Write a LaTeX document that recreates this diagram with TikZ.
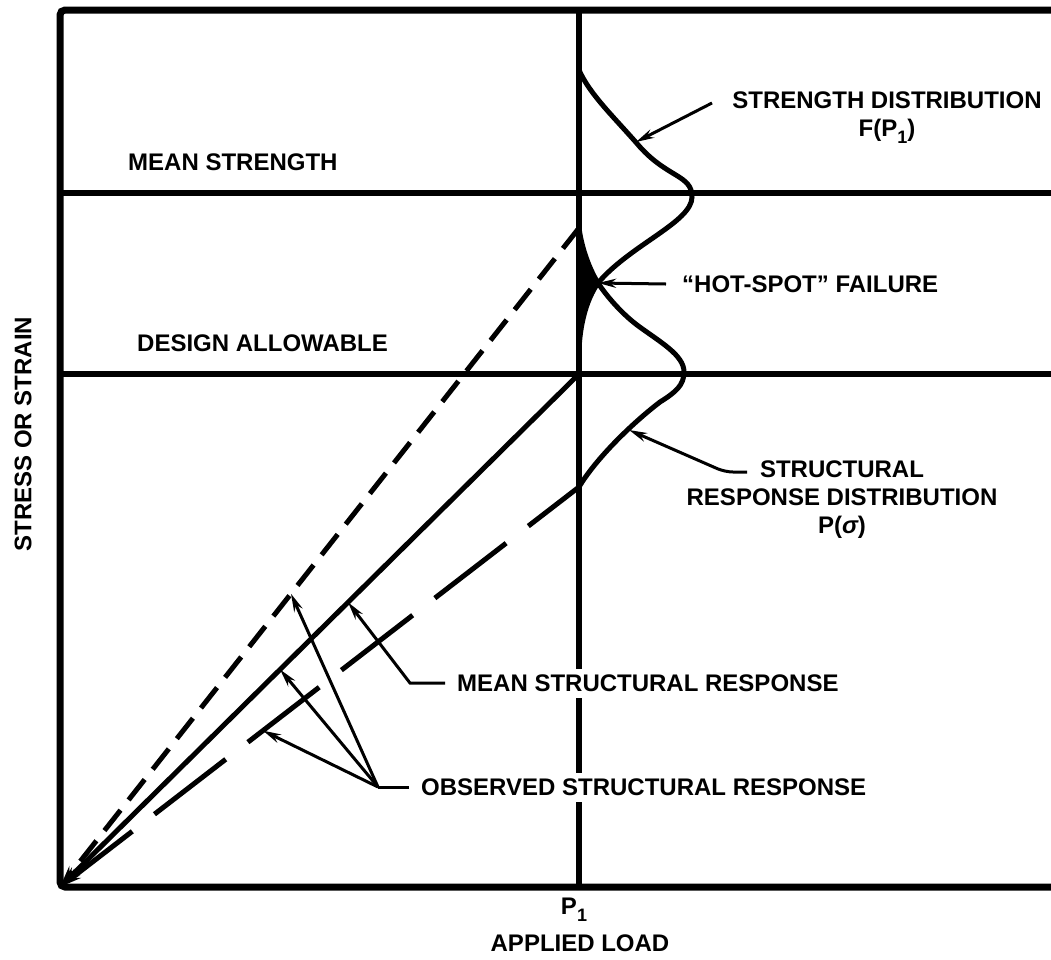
\documentclass[tikz,border=0pt]{standalone}
\usepackage{fontspec}
\setmainfont{Liberation Sans}
\usetikzlibrary{arrows.meta,calc}
\newcommand{\subone}[1]{\raisebox{-7pt}{\fontsize{18}{18}\selectfont #1}}

\begin{document}
\begin{tikzpicture}[x=1pt,y=-1pt,
  lbl/.style={font=\fontsize{24}{28}\selectfont\bfseries, inner sep=0pt, align=center},
  cutlbl/.style={lbl, fill=white, inner xsep=12pt, inner ysep=6pt},
  axisline/.style={line width=5.5pt},
  resp/.style={line width=5pt},
  lead/.style={line width=3pt},
  tip/.style={-{Stealth[length=18pt,width=9pt]}}
]
  \useasboundingbox[fill=white] (0,0) rectangle (1051,959);

  % frame, levels and P1
  \coordinate (O) at (60,887);
  \draw[line width=7pt, rounded corners=5pt] (1051,10) -- (60,10) -- (O) -- (1051,887);
  \draw[axisline] (60,193) -- (1051,193);
  \draw[axisline] (60,374) -- (1051,374);
  \draw[axisline] (579,10) -- (579,887);

  % response lines
  \coordinate (hiend) at (579,228);
  \coordinate (meanend) at (579,374);
  \coordinate (loend) at (579,487);
  \draw[resp, dash pattern=on 26pt off 13pt, -{Stealth[length=22pt,width=11pt]}] (hiend) -- (O);
  \draw[resp, -{Stealth[length=22pt,width=11pt]}] (meanend) -- (O);
  \draw[resp, dash pattern=on 90pt off 28pt, dash phase=26pt, -{Stealth[length=22pt,width=11pt]}] (loend) -- (O);

  % distributions
  \coordinate (X) at (598,283);
  \fill (579,228) .. controls (582,250) and (590,270) .. (X) .. controls (586,300) and (580,325) .. (579,350) -- cycle;
  \draw[resp] (579,70) .. controls (590,95) and (615,118) .. (640,147) .. controls (668,178) and (692,175) .. (692,197)
    .. controls (692,222) and (630,245) .. (X) .. controls (586,300) and (580,325) .. (579,350);
  \draw[resp] (loend) .. controls (595,460) and (630,425) .. (660,402) .. controls (676,392) and (684,385) .. (684,372)
    .. controls (684,355) and (660,342) .. (637,325) .. controls (620,312) and (606,295) .. (X)
    .. controls (590,270) and (582,250) .. (hiend);
  \coordinate (Fpt) at (636,142);
  \coordinate (Ppt) at (629,430);

  % labels
  \node[lbl, anchor=west] (meanstr) at (128,162) {MEAN STRENGTH};
  \node[lbl, anchor=west] (designall) at (137,343) {DESIGN ALLOWABLE};
  \node[lbl, rotate=90] (yaxis) at (23,434) {STRESS OR STRAIN};
  \node[lbl] (fdist) at (887,118) {STRENGTH DISTRIBUTION\\F(P\subone{1})};
  \node[lbl, anchor=west] (hotspot) at (682,284) {``HOT-SPOT'' FAILURE};
  \node[lbl] (pdist) at (842,500) {STRUCTURAL\\RESPONSE DISTRIBUTION\\P({\itshape σ})};
  \node[cutlbl, anchor=west] (meanl) at (445,683) {MEAN STRUCTURAL RESPONSE};
  \node[cutlbl, anchor=west] (obsl) at (409,787) {OBSERVED STRUCTURAL RESPONSE};
  \node[lbl] (p1) at (574,910) {P\subone{1}};
  \node[lbl] (xaxis) at (580,943) {APPLIED LOAD};

  % leaders
  \coordinate (fleadend) at (712,103);
  \coordinate (pleadend) at (747,472);
  \coordinate (obsj) at (378,787);
  \draw[lead, tip] (fleadend) -- (Fpt);
  \draw[lead, tip] ([xshift=-16pt]hotspot.west) -- (X);
  \draw[lead, tip, rounded corners=8pt] (pleadend) -- (725,472) -- (Ppt);
  \draw[lead, tip] (meanl.west) -- (410,683) -- ($(O)!0.555!(meanend)$);
  \draw[lead] (obsl.west) -- (obsj);
  \draw[lead, tip] (obsj) -- ($(O)!0.445!(hiend)$);
  \draw[lead, tip] (obsj) -- ($(O)!0.424!(meanend)$);
  \draw[lead, tip] (obsj) -- ($(O)!0.391!(loend)$);
\end{tikzpicture}
\end{document}
